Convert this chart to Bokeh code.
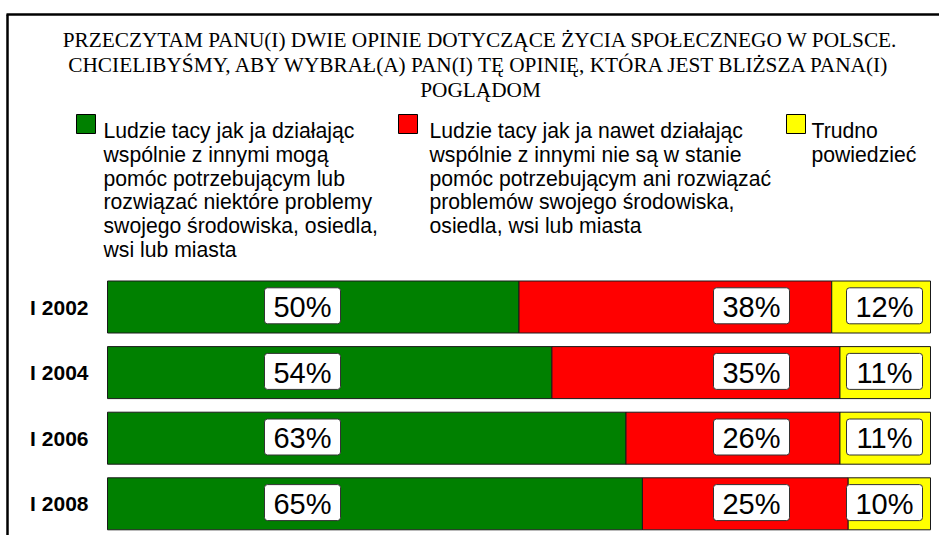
from bokeh.plotting import figure
from bokeh.models import Range1d
from bokeh.core.properties import value
from bokeh.embed import file_html
from bokeh.resources import INLINE

# ---------------- data ----------------
title_lines = [
    "PRZECZYTAM PANU(I) DWIE OPINIE DOTYCZĄCE ŻYCIA SPOŁECZNEGO W POLSCE.",
    "CHCIELIBYŚMY, ABY WYBRAŁ(A) PAN(I) TĘ OPINIĘ, KTÓRA JEST BLIŻSZA PANA(I)",
    "POGLĄDOM",
]
categories = ["I 2002", "I 2004", "I 2006", "I 2008"]
agree = [50, 54, 63, 65]
disagree = [38, 35, 26, 25]
dont_know = [12, 11, 11, 10]
legend_agree = [
    "Ludzie tacy jak ja działając",
    "wspólnie z innymi mogą",
    "pomóc potrzebującym lub",
    "rozwiązać niektóre problemy",
    "swojego środowiska, osiedla,",
    "wsi lub miasta",
]
legend_disagree = [
    "Ludzie tacy jak ja nawet działając",
    "wspólnie z innymi nie są w stanie",
    "pomóc potrzebującym ani rozwiązać",
    "problemów swojego środowiska,",
    "osiedla, wsi lub miasta",
]
legend_dont_know = ["Trudno", "powiedzieć"]
colors = ["#008000", "#FF0000", "#FFFF00"]

# ---------------- layout helpers (pixels -> data) ----------------
W, H = 939, 535
X0, X1 = 107, 930          # pixel x of 0% and 100%
ROW0, STEP = 306.5, 65.6   # pixel y of first bar centre, row spacing


def xd(px):
    return (px - X0) / (X1 - X0) * 100.0


def yd(py):
    return (py - ROW0) / STEP


p = figure(width=W, height=H, output_backend="svg", toolbar_location=None,
           x_range=Range1d(xd(0), xd(W)), y_range=Range1d(yd(H), yd(0)),
           x_axis_location=None, y_axis_location=None,
           min_border=0, min_border_left=0, min_border_right=0,
           min_border_top=0, min_border_bottom=0)
p.grid.visible = False
p.outline_line_color = None
p.background_fill_color = "white"
p.border_fill_color = "white"

SANS = value("Liberation Sans")
SERIF = value("Liberation Serif")

# frame lines (left and top)
p.segment(x0=[xd(7), xd(6)], y0=[yd(14), yd(14)], x1=[xd(7), xd(W + 10)],
          y1=[yd(H + 10), yd(14)], line_color="black", line_width=2.5)

# title
p.text(x=[xd(480)] * len(title_lines), y=[yd(39.5), yd(64), yd(89.5)], text=title_lines,
       text_align="center", text_baseline="alphabetic", text_font=SERIF,
       text_font_size="21.3px", text_color="black")

# legend
legend_blocks = [legend_agree, legend_disagree, legend_dont_know]
sq_px = [85.5, 407.5, 795.5]
txt_px = [103, 429, 811]
for c, lines, sx, tx in zip(colors, legend_blocks, sq_px, txt_px):
    p.rect(x=[xd(sx)], y=[yd(123.5)], width=19, height=19, width_units="screen",
           height_units="screen", fill_color=c, line_color="black", line_width=1)
    p.text(x=[xd(tx)] * len(lines), y=[yd(130 + 23.8 * k) for k in range(len(lines))],
           text=lines, text_align="left", text_baseline="alphabetic", text_font=SANS,
           text_font_size="21.2px", text_color="black")

# bars
rows = list(range(len(categories)))
series = [agree, disagree, dont_know]
left = [0.0] * len(rows)
for vals, c in zip(series, colors):
    right = [l + v for l, v in zip(left, vals)]
    p.hbar(y=rows, left=left, right=right, height=52 / STEP, fill_color=c,
           line_color="#1a1a1a", line_width=1)
    left = right

# category labels
p.text(x=[xd(88)] * len(rows), y=rows, text=categories, text_align="right",
       text_baseline="middle", text_font=SANS, text_font_style="bold",
       text_font_size="21px", text_color="black")

# value labels in white boxes
label_px = [302, 751, 884]
for vals, lx in zip(series, label_px):
    xs = [xd(lx)] * len(rows)
    p.rect(x=xs, y=[r - 1.2 / STEP for r in rows], width=76, height=36,
           width_units="screen", height_units="screen", fill_color="white",
           line_color="#333333", line_width=1, border_radius=3)
    p.text(x=xs, y=rows, text=[f"{v}%" for v in vals], text_align="center",
           text_baseline="middle", text_font=SANS, text_font_size="29px",
           text_color="black")

open("out.html", "w").write(file_html(p, INLINE))
